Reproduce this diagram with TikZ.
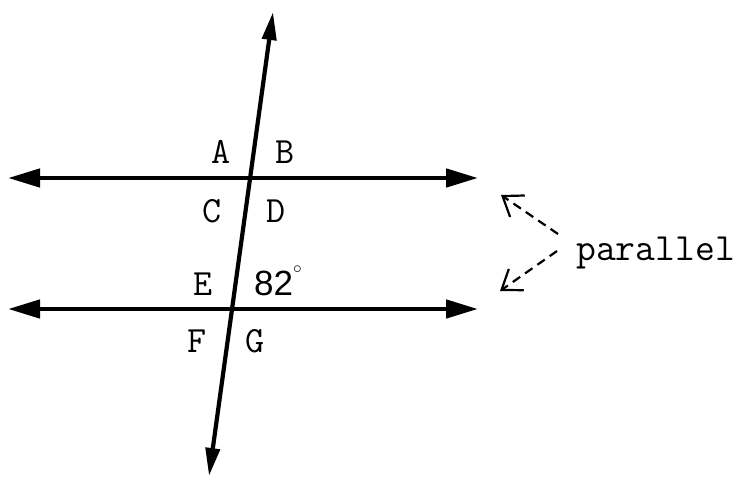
\documentclass[tikz,border=0pt]{standalone}
\usepackage{fontspec}
\newfontfamily\lsans{Liberation Sans}
\usetikzlibrary{arrows.meta}
\begin{document}
\begin{tikzpicture}[x=1pt,y=-1pt,
  mainline/.style={line width=4.6pt,{Triangle[length=32pt,width=18pt]}-{Triangle[length=32pt,width=18pt]}},
  transline/.style={line width=4.2pt,{Triangle[length=28pt,width=14pt]}-{Triangle[length=28pt,width=14pt]}},
  dasharrow/.style={line width=2.2pt,dash pattern=on 9pt off 6pt,-{Straight Barb[length=18pt,width=26pt]}},
  lbl/.style={anchor=base,inner sep=0pt,font=\ttfamily\fontsize{37}{44}\selectfont},
  ptext/.style={anchor=base west,inner sep=0pt,font=\ttfamily\fontsize{38.5}{44}\selectfont}]
\useasboundingbox (0,0) rectangle (743,482);
\coordinate (L1a) at (8,178);
\coordinate (L1b) at (478,178);
\coordinate (L2a) at (8,309);
\coordinate (L2b) at (478,309);
\coordinate (Ta) at (209,476);
\coordinate (Tb) at (273,12);
\draw[mainline] (L1a) -- (L1b);
\draw[mainline] (L2a) -- (L2b);
\draw[transline] (Ta) -- (Tb);
\node[lbl] (A) at (221,163) {A};
\node[lbl] (B) at (285,163) {B};
\node[lbl] (C) at (212,222) {C};
\node[lbl] (D) at (276,222) {D};
\node[lbl] (E) at (203,295) {E};
\node[lbl,anchor=base west] (ang) at (254,295) {\lsans\fontsize{35}{40}\selectfont 82\raisebox{0.36em}{\fontsize{26}{26}\selectfont$^\circ$}};
\node[lbl] (F) at (197,352) {F};
\node[lbl] (G) at (255,352) {G};
\node[ptext] (par) at (576,260) {parallel};
\coordinate (t1) at (501,195);
\coordinate (t2) at (500,291);
\coordinate (s1) at (558,234);
\coordinate (s2) at (557,251);
\draw[dasharrow] (s1) -- (t1);
\draw[dasharrow] (s2) -- (t2);
\end{tikzpicture}
\end{document}
